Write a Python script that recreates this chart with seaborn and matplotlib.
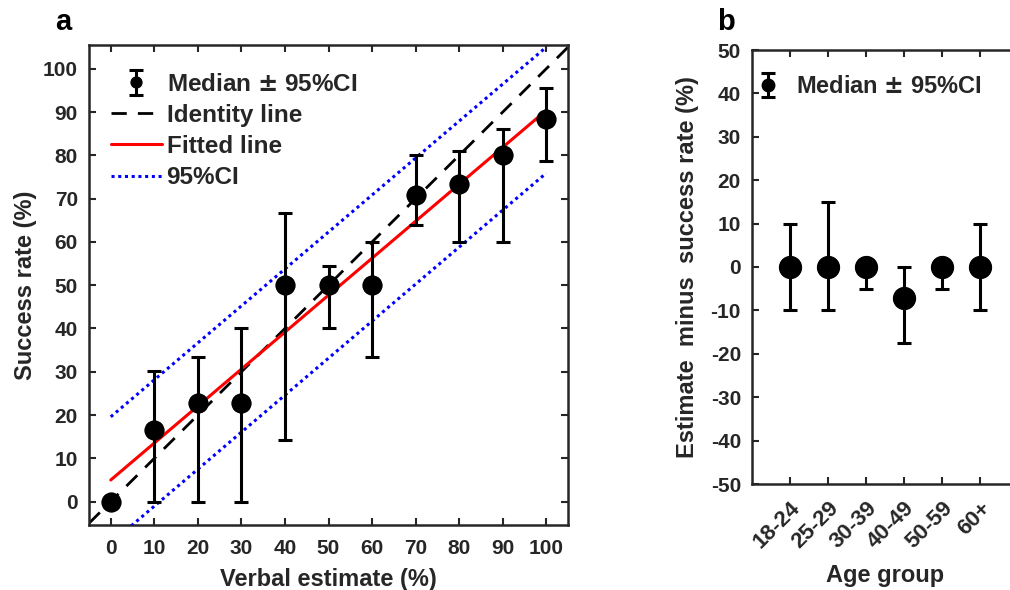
import numpy as np
import pandas as pd
import matplotlib
matplotlib.use("Agg")
import matplotlib.pyplot as plt
import seaborn as sns

# ---------------- data ----------------
verbal = [0, 10, 20, 30, 40, 50, 60, 70, 80, 90, 100]
success_median = [0, 16.5, 22.7, 22.7, 50, 50, 50, 70.8, 73.4, 80.2, 88.5]
success_lo = [0, 0, 0, 0, 14.3, 40, 33.4, 63.8, 60, 60, 78.7]
success_hi = [0, 30.2, 33.3, 40, 66.7, 54.5, 60, 80, 81, 86, 95.5]

fit_x = [0, 100]
fit_y = [5.0, 90.4]
ci_upper = [19.6, 105.0]
ci_lower = [-9.6, 75.9]
identity = [-5, 105]

age_groups = ["18-24", "25-29", "30-39", "40-49", "50-59", "60+"]
diff_median = [0, 0, 0, -7.2, 0, 0]
diff_lo = [-10, -10, -5, -17.5, -5, -10]
diff_hi = [10, 15, 0, 0, 0, 10]

# ---------------- style ----------------
sns.set_theme(style="white")
plt.rcParams["font.family"] = ["Liberation Sans", "DejaVu Sans"]
plt.rcParams["font.weight"] = "bold"
plt.rcParams["axes.labelweight"] = "bold"
plt.rcParams["axes.unicode_minus"] = False
DARK = "#262626"
plt.rcParams["text.color"] = DARK
plt.rcParams["axes.labelcolor"] = DARK
plt.rcParams["xtick.color"] = DARK
plt.rcParams["ytick.color"] = DARK

fig = plt.figure(figsize=(10.1, 5.9), dpi=100)
axa = fig.add_axes([89 / 1010, 1 - 525 / 590, 479 / 1010, 480 / 590])
axb = fig.add_axes([752 / 1010, 1 - 484 / 590, 266 / 1010, 434 / 590])

df_a = pd.DataFrame({"x": verbal, "y": success_median})
yerr_a = [np.array(success_median) - np.array(success_lo),
          np.array(success_hi) - np.array(success_median)]

# identity / fit / CI lines
sns.lineplot(x=identity, y=identity, ax=axa, color="black", lw=2.0,
             linestyle=(0, (5.5, 4)), label="Identity line", zorder=2)
sns.lineplot(x=fit_x, y=fit_y, ax=axa, color="red", lw=2.2,
             label="Fitted line", zorder=3)
sns.lineplot(x=fit_x, y=ci_upper, ax=axa, color="blue", lw=2.2,
             linestyle=(0, (1, 1.2)), label="95%CI", zorder=3)
sns.lineplot(x=fit_x, y=ci_lower, ax=axa, color="blue", lw=2.2,
             linestyle=(0, (1, 1.2)), zorder=3)

eb = axa.errorbar(verbal, success_median, yerr=yerr_a, fmt="o", color="black",
                  ms=13, elinewidth=2.2, capsize=5, capthick=2.2, zorder=4,
                  label="Median $\\pm$ 95%CI")
sns.scatterplot(data=df_a, x="x", y="y", ax=axa, s=180, color="black",
                edgecolor="black", zorder=5, legend=False)

axa.set_xlim(-5, 105)
axa.set_ylim(-5.4, 105.5)
axa.set_xticks(range(0, 101, 10))
axa.set_yticks(range(0, 101, 10))
axa.set_xlabel("Verbal estimate (%)", fontsize=17, labelpad=7)
axa.set_ylabel("Success rate (%)", fontsize=17, labelpad=4)

h, l = axa.get_legend_handles_labels()
order = [l.index("Median $\\pm$ 95%CI"), l.index("Identity line"),
         l.index("Fitted line"), l.index("95%CI")]
axa.legend([h[i] for i in order], [l[i] for i in order], loc="upper left",
           frameon=False, fontsize=17.5, handlelength=2.1, handletextpad=0.2,
           labelspacing=0.33, borderaxespad=0.0, markerscale=0.6,
           bbox_to_anchor=(0.025, 0.962))

# ---------------- panel b ----------------
xb = np.arange(1, len(age_groups) + 1)
yerr_b = [np.array(diff_median) - np.array(diff_lo),
          np.array(diff_hi) - np.array(diff_median)]
df_b = pd.DataFrame({"x": xb, "y": diff_median})
ebb = axb.errorbar(xb, diff_median, yerr=yerr_b, fmt="o", color="black", ms=15,
                   elinewidth=2.2, capsize=5, capthick=2.2, zorder=4,
                   label="Median $\\pm$ 95%CI")
sns.scatterplot(data=df_b, x="x", y="y", ax=axb, s=240, color="black",
                edgecolor="black", zorder=5, legend=False)
axb.set_xlim(0, 7)
axb.set_ylim(-50, 50)
axb.set_yticks(range(-50, 51, 10))
axb.set_xticks(xb)
axb.set_xticklabels(age_groups, rotation=45, ha="right", rotation_mode="anchor")
axb.set_xlabel("Age group", fontsize=17, labelpad=8)
axb.set_ylabel("Estimate  minus  success rate (%)", fontsize=17, labelpad=8)
axb.legend([ebb], ["Median $\\pm$ 95%CI"], loc="upper left", frameon=False,
           fontsize=17, handlelength=0.8, handletextpad=0.8, markerscale=0.6,
           borderaxespad=0.0, bbox_to_anchor=(-0.012, 0.964))

for ax in (axa, axb):
    for s in ax.spines.values():
        s.set_linewidth(1.8)
        s.set_color(DARK)
    ax.tick_params(direction="in", length=5, width=1.5, labelsize=15,
                   top=True, right=True, bottom=True, left=True, pad=8)
    for lab in ax.get_xticklabels() + ax.get_yticklabels():
        lab.set_fontweight("bold")
axa.tick_params(axis="x", pad=10)
axb.tick_params(axis="x", labelsize=16, pad=10)

fig.text(63 / 1010, 1 - 22 / 590, "a", fontsize=21, fontweight="bold",
         ha="center", va="center", color="black")
fig.text(726 / 1010, 1 - 22 / 590, "b", fontsize=21, fontweight="bold",
         ha="center", va="center", color="black")

fig.savefig("out.png", dpi=100)
